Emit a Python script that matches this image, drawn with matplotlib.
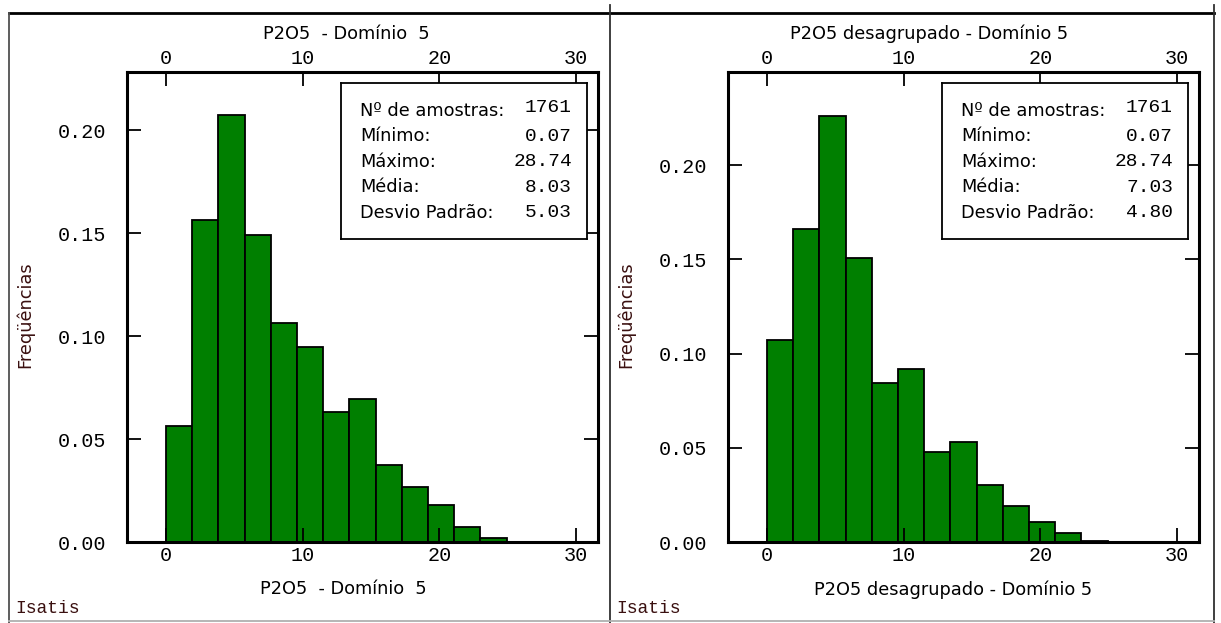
import numpy as np
import matplotlib.pyplot as plt
from matplotlib.lines import Line2D

# bin layout shared by both histograms (15 classes over 0 - 28.74)
bin_width = 28.74 / 15
n_bins = 13
bin_left = np.arange(n_bins) * bin_width

# relative frequencies per class
freq_grouped = [0.0563, 0.1562, 0.2076, 0.1492, 0.1062, 0.0946, 0.0632,
                0.0694, 0.0373, 0.0267, 0.0182, 0.0075, 0.0021]
freq_declust = [0.1074, 0.1661, 0.2261, 0.1507, 0.0844, 0.0918, 0.0479,
                0.0528, 0.0305, 0.0190, 0.0106, 0.0050, 0.0007]

titles = ["P2O5  - Domínio  5", "P2O5 desagrupado - Domínio 5"]
stat_labels = ["Nº de amostras:", "Mínimo:", "Máximo:", "Média:", "Desvio Padrão:"]
stats_grouped = ["1761", "0.07", "28.74", "8.03", "5.03"]
stats_declust = ["1761", "0.07", "28.74", "7.03", "4.80"]

x_ticks = [0, 10, 20, 30]
y_ticks = [0.00, 0.05, 0.10, 0.15, 0.20]

W, H = 1221, 623
fig = plt.figure(figsize=(W / 100, H / 100), dpi=100)

mono = "Liberation Mono"
sans = "DejaVu Sans"
txt_col = "#3a1010"

# x0, data, stats, title, y top, panel left, title x, xlabel x
panels = [
    (127, freq_grouped, stats_grouped, titles[0], 0.2283, 9, 0.465, 0.459),
    (728, freq_declust, stats_declust, titles[1], 0.2494, 610, 0.427, 0.478),
]

for x0, freqs, stats, title, ytop, px, tx, lx in panels:
    ax = fig.add_axes([x0 / W, 1 - 542 / H, 471 / W, 470 / H])
    ax.bar(bin_left, freqs, width=bin_width, align="edge",
           color="#007f00", edgecolor="black", linewidth=1.3)
    ax.set_xlim(-2.85, 31.6)
    ax.set_ylim(0, ytop)
    ax.set_xticks(x_ticks)
    ax.set_yticks(y_ticks)
    ax.set_yticklabels(["%.2f" % v for v in y_ticks])
    ax.tick_params(direction="in", length=10, width=1.3, top=True, right=True,
                   labeltop=True, labelsize=14.5)
    ax.tick_params(axis="y", pad=15)
    ax.tick_params(axis="x", pad=3)
    for lab in ax.get_xticklabels() + ax.get_yticklabels():
        lab.set_fontfamily(mono)
    for sp in ax.spines.values():
        sp.set_linewidth(2.2)

    ax.set_title(title, fontsize=12.8, family=sans, pad=24, x=tx)
    ax.set_xlabel(title, fontsize=12.8, family=sans, labelpad=11, x=lx)

    # summary statistics box
    ax_box = fig.add_axes([(x0 + 214) / W, 1 - 239 / H, 246 / W, 156 / H])
    ax_box.set_xticks([])
    ax_box.set_yticks([])
    for sp in ax_box.spines.values():
        sp.set_linewidth(1.3)
    for i, (lab, val) in enumerate(zip(stat_labels, stats)):
        yy = 1 - (28 + 25.5 * i) / 156
        ax_box.text(19 / 246, yy, lab, fontsize=12.8, family=sans,
                    ha="left", va="center", transform=ax_box.transAxes)
        ax_box.text(231 / 246, yy + (0.025 if i == 0 else 0), val, fontsize=14,
                    family=mono, ha="right", va="center",
                    transform=ax_box.transAxes)

    fig.text((px + 16) / W, 1 - 315 / H, "Freqüências", rotation=90,
             fontsize=12.8, family=sans, color=txt_col, ha="center", va="center")
    fig.text((px + 6) / W, 1 - 613 / H, "Isatis", fontsize=13, family=mono,
             color=txt_col, ha="left", va="baseline")

# window frames around the two panels
frame = [
    ((9, 1214), (13, 13), "black", 2.0),
    ((610, 610), (5, 623), "#303030", 1.3),
    ((1214, 1214), (5, 623), "#303030", 1.3),
    ((9, 9), (13, 623), "#505050", 1.3),
    ((9, 1214), (621, 621), "#b0b0b0", 1.3),
]
for xs, ys, c, lw in frame:
    fig.add_artist(Line2D([x / W for x in xs], [1 - y / H for y in ys],
                          color=c, linewidth=lw))

fig.savefig("out.png", dpi=100, facecolor="white")
